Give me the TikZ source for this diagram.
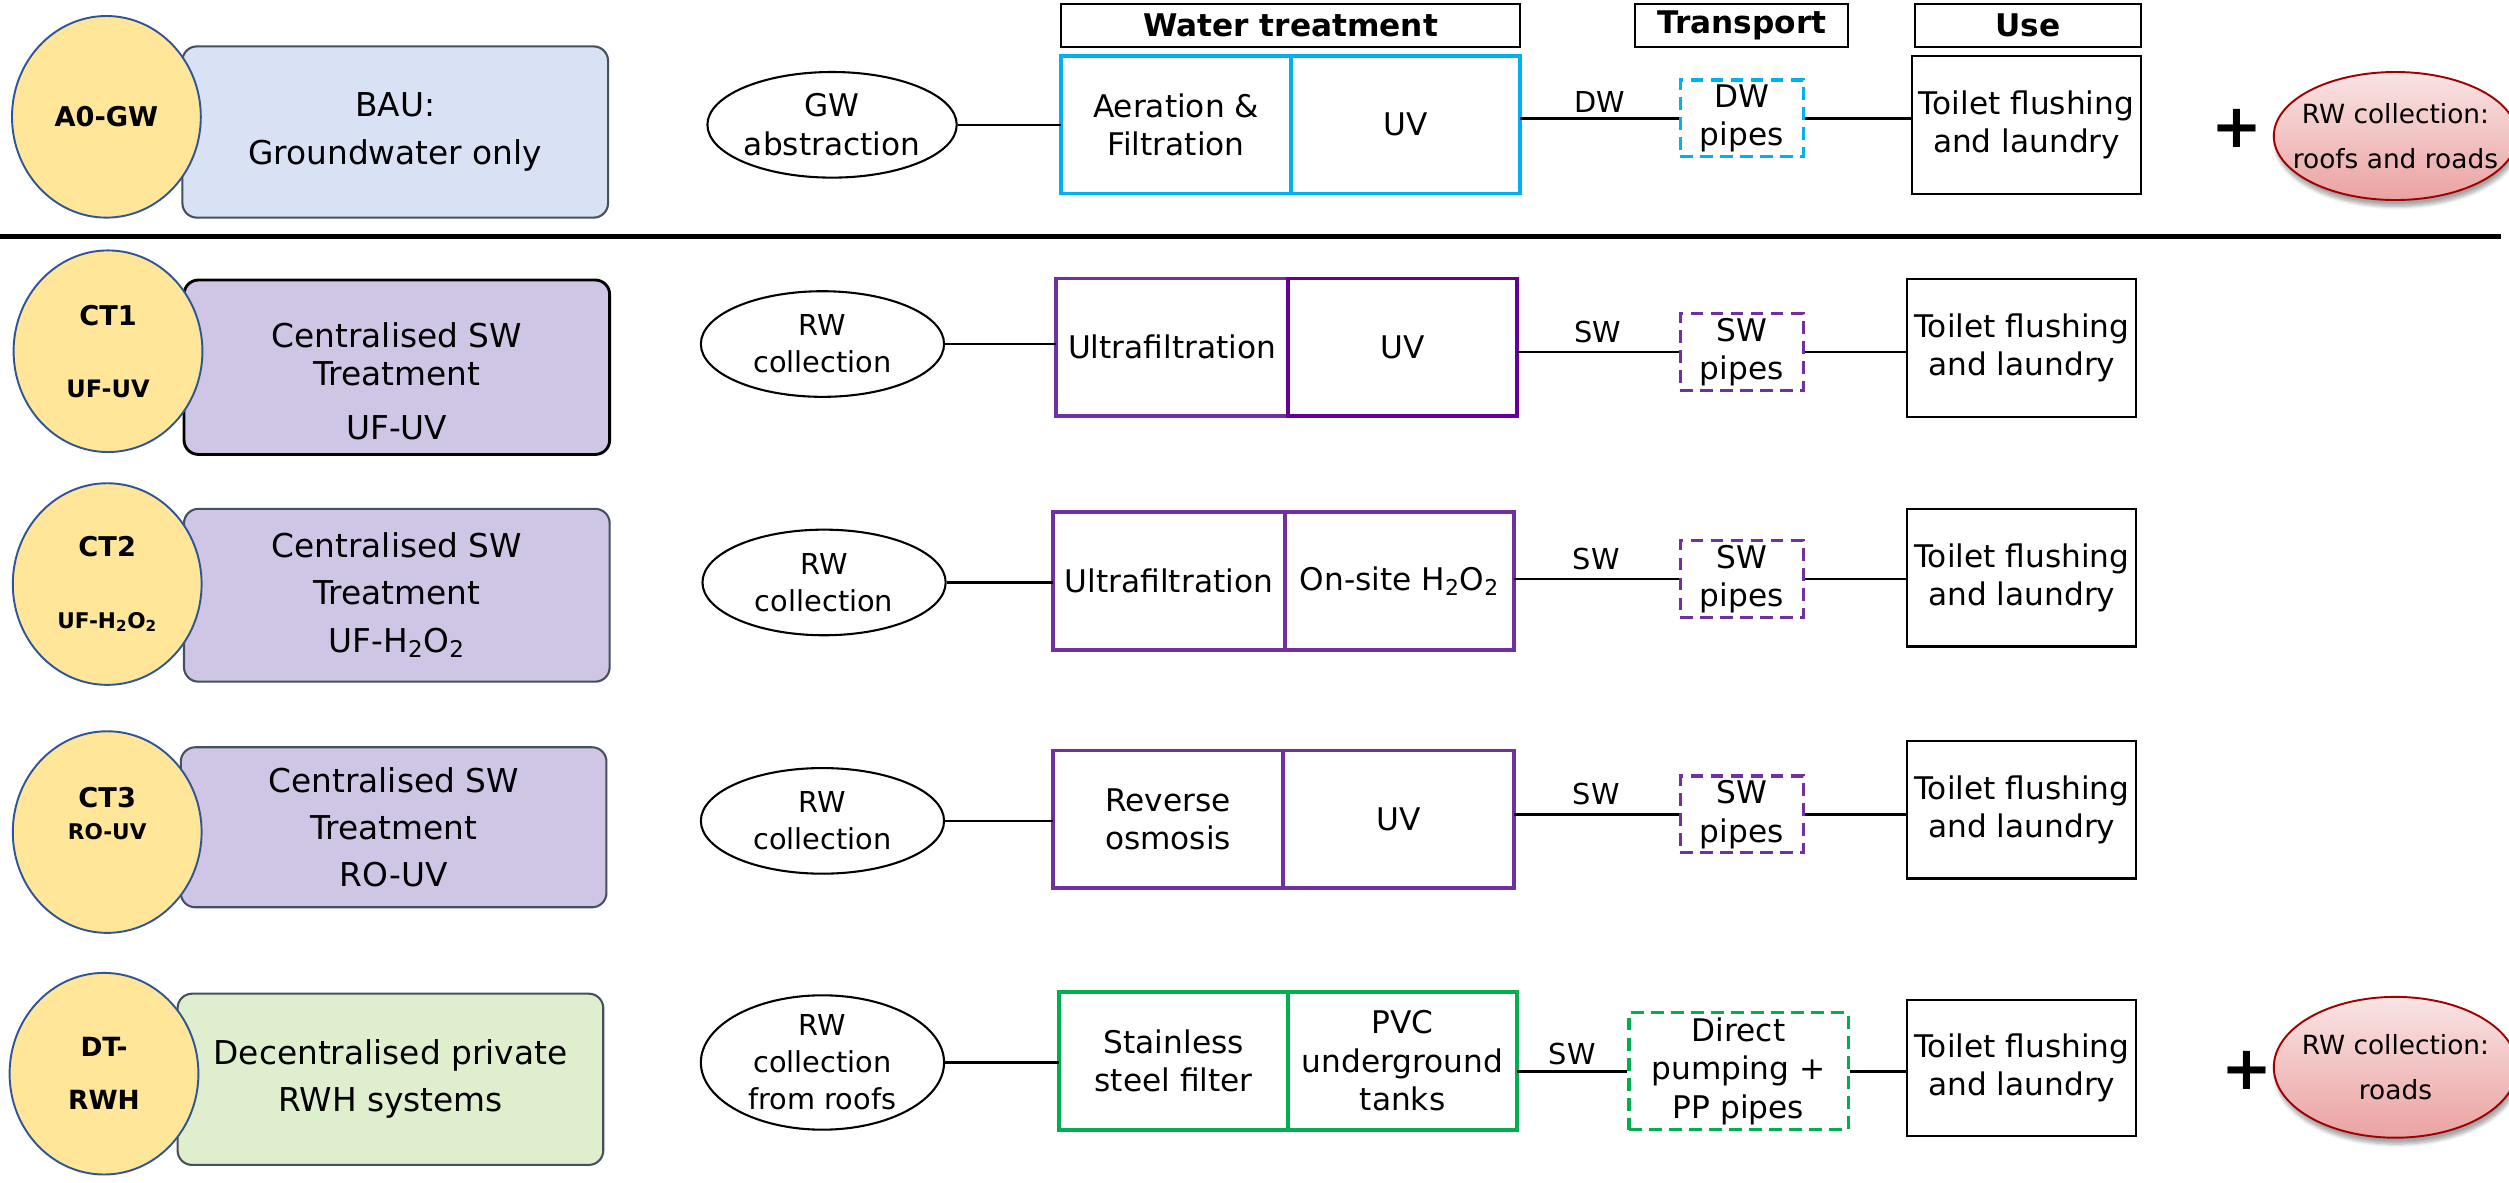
\documentclass[tikz,border=0pt]{standalone}
\usepackage{fontspec}
\setmainfont{DejaVu Sans}
\usetikzlibrary{shapes.geometric,shadows.blur}

\definecolor{tagfill}{HTML}{FFE699}
\definecolor{tagline}{HTML}{2F5597}
\definecolor{baufill}{HTML}{D9E1F4}
\definecolor{ctfill}{HTML}{CFC6E5}
\definecolor{dtfill}{HTML}{DFEFCD}
\definecolor{boxline}{HTML}{44505F}
\definecolor{gwblue}{HTML}{00B0F0}
\definecolor{swpurple}{HTML}{7030A0}
\definecolor{swdeep}{HTML}{640096}
\definecolor{rwgreen}{HTML}{00B050}
\definecolor{rwtop}{HTML}{F9E4E4}
\definecolor{rwbottom}{HTML}{EBA2A2}
\definecolor{rwline}{HTML}{A00000}

\newcommand\sizeflow{\fontsize{19.5}{24}\selectfont}
\newcommand\sizeleft{\fontsize{20.5}{29.5}\selectfont}
\newcommand\sizesub{\fontsize{13.5}{16}\selectfont}

\begin{document}
\begin{tikzpicture}[x=1pt,y=-1pt,
  tag/.style={ellipse, draw=tagline, line width=1.2, fill=tagfill,
    minimum width=118, minimum height=126, inner sep=0, align=center,
    font=\bfseries\fontsize{17}{20}\selectfont},
  scen/.style={rounded corners=9, draw=boxline, line width=1.3, fill=#1,
    minimum width=266, align=center, font=\sizeleft},
  src/.style={ellipse, draw, line width=1.3, minimum width=152,
    minimum height=66, inner sep=0, align=center,
    font=\fontsize{18}{23}\selectfont},
  treat/.style={draw=#1, line width=2.3, minimum height=86, inner sep=0,
    outer sep=0, align=center, font=\sizeflow},
  pipebox/.style={draw=#1, line width=2, dash pattern=on 8pt off 4.5pt,
    minimum width=77, minimum height=48, inner sep=0, align=center,
    font=\sizeflow},
  usebox/.style={draw, line width=1.3, minimum width=143, minimum height=86,
    inner sep=0, align=center, font=\sizeflow},
  head/.style={draw, line width=1.3, minimum height=27, inner sep=0,
    font=\bfseries\fontsize{19.5}{24}\selectfont},
  link/.style={line width=1.5},
  flowlabel/.style={midway, above=#1, inner sep=0, font=\fontsize{18}{22}\selectfont},
  flowlabel/.default=5pt,
  plus/.style={inner sep=0, font=\bfseries\fontsize{38}{38}\selectfont},
  rw/.style={ellipse, draw=rwline, line width=1.2, top color=rwtop,
    bottom color=rwbottom, minimum width=152, inner xsep=-25pt,
    inner ysep=-12pt, align=center,
    font=\fontsize{16.5}{28}\selectfont,
    blur shadow={shadow xshift=1pt, shadow yshift=-4pt, shadow opacity=35,
      shadow blur steps=6}}
]
\useasboundingbox (0,0) rectangle (1568,739);

% column headings
\node[head, minimum width=287] (hwt) at (806.5,16) {Water treatment};
\node[head, minimum width=133] (htr) at (1088.5,16) {Transport};
\node[head, minimum width=141] (hus) at (1267.5,16) {Use};

% ---------- A0-GW ----------
\node[scen=baufill, minimum height=107] (a0B) at (247,82.5) {BAU:\\Groundwater only};
\node[tag] (a0T) at (66.5,73) {A0-GW};
\node[src, font=\fontsize{19.5}{24}\selectfont] (a0S) at (520,78) {GW\\abstraction};
\node[treat=gwblue, minimum width=144] (a0L) at (735,78) {Aeration \&\\Filtration};
\node[treat=gwblue, minimum width=143, anchor=west] (a0R) at (a0L.east) {UV};
\node[pipebox=gwblue] (a0P) at (1088.5,74) {DW\\pipes};
\node[usebox] (a0U) at (1266.5,78) {Toilet flushing\\and laundry};
\node[plus] (a0plus) at (1398,80) {+};
\node[rw, minimum height=80] (a0RW) at (1497,85) {RW collection:\\roofs and roads};
\draw[link] (a0S.east) -- (a0S.east -| a0L.west);
\draw[link] (a0P.west -| a0R.east) -- node[flowlabel=3pt] {DW} (a0P.west);
\draw[link] (a0P.east) -- (a0P.east -| a0U.west);

% separator between baseline and alternatives
\draw[line width=3] (0,148) -- (1563,148);

% ---------- CT1 ----------
\node[scen=ctfill, draw=black, line width=1.8, minimum height=109] (c1B) at (248,229.5)
  {\rule{0pt}{33pt}Centralised SW\\[-5.5pt]Treatment\\[4.5pt]UF-UV};
\node[tag] (c1T) at (67.5,219.5) {CT1\\[25pt]\fontsize{15}{16}\selectfont UF-UV};
\node[src] (c1S) at (514,215) {RW\\collection};
\node[treat=swpurple, minimum width=145] (c1L) at (732.5,217) {Ultrafiltration};
\node[treat=swdeep, minimum width=143, anchor=west] (c1R) at (c1L.east) {UV};
\node[pipebox=swpurple] (c1P) at (1088.5,220) {SW\\pipes};
\node[usebox] (c1U) at (1263.5,217.5) {Toilet flushing\\and laundry};
\draw[link] (c1S.east) -- (c1S.east -| c1L.west);
\draw[link] (c1P.west -| c1R.east) -- node[flowlabel] {SW} (c1P.west);
\draw[link] (c1P.east) -- (c1P.east -| c1U.west);

% ---------- CT2 ----------
\node[scen=ctfill, minimum height=108] (c2B) at (248,372)
  {Centralised SW\\Treatment\\UF-H\textsubscript{2}O\textsubscript{2}};
\node[tag] (c2T) at (67,365) {CT2\\[25pt]\sizesub UF-H\textsubscript{2}O\textsubscript{2}};
\node[src] (c2S) at (515,364) {RW\\collection};
\node[treat=swpurple, minimum width=145] (c2L) at (730.5,363) {Ultrafiltration};
\node[treat=swpurple, minimum width=143, anchor=west] (c2R) at (c2L.east) {On-site H\textsubscript{2}O\textsubscript{2}};
\node[pipebox=swpurple] (c2P) at (1088.5,362) {SW\\pipes};
\node[usebox] (c2U) at (1263.5,361) {Toilet flushing\\and laundry};
\draw[link] (c2S.east) -- (c2S.east -| c2L.west);
\draw[link] (c2P.west -| c2R.east) -- node[flowlabel] {SW} (c2P.west);
\draw[link] (c2P.east) -- (c2P.east -| c2U.west);

% ---------- CT3 ----------
\node[scen=ctfill, minimum height=100] (c3B) at (246,517)
  {Centralised SW\\Treatment\\RO-UV};
\node[tag] (c3T) at (67,520) {CT3\\[0pt]\sizesub RO-UV\rule[-23pt]{0pt}{23pt}};
\node[src] (c3S) at (514,513) {RW\\collection};
\node[treat=swpurple, minimum width=144] (c3L) at (730,512) {Reverse\\osmosis};
\node[treat=swpurple, minimum width=144, anchor=west] (c3R) at (c3L.east) {UV};
\node[pipebox=swpurple] (c3P) at (1088.5,509) {SW\\pipes};
\node[usebox] (c3U) at (1263.5,506) {Toilet flushing\\and laundry};
\draw[link] (c3S.east) -- (c3S.east -| c3L.west);
\draw[link] (c3P.west -| c3R.east) -- node[flowlabel] {SW} (c3P.west);
\draw[link] (c3P.east) -- (c3P.east -| c3U.west);

% ---------- DT-RWH ----------
\node[scen=dtfill, minimum height=107] (dtB) at (244,674.5)
  {Decentralised private\\RWH systems};
\node[tag, font=\bfseries\fontsize{16.5}{33}\selectfont] (dtT) at (65,671) {DT-\\RWH};
\node[src, minimum height=76] (dtS) at (514,664) {RW\\collection\\from roofs};
\node[treat=rwgreen, minimum width=143] (dtL) at (733.5,663) {Stainless\\steel filter};
\node[treat=rwgreen, minimum width=143, anchor=west] (dtR) at (dtL.east) {PVC\\underground\\tanks};
\node[pipebox=rwgreen, minimum width=137, minimum height=73] (dtP) at (1086.5,669.5)
  {Direct\\pumping +\\PP pipes};
\node[usebox, minimum height=85] (dtU) at (1263.5,667.5) {Toilet flushing\\and laundry};
\node[plus] (dtplus) at (1404,669) {+};
\node[rw, minimum height=88] (dtRW) at (1497,667) {RW collection:\\roads};
\draw[link] (dtS.east) -- (dtS.east -| dtL.west);
\draw[link] (dtP.west -| dtR.east) -- node[flowlabel=3pt] {SW} (dtP.west);
\draw[link] (dtP.east) -- (dtP.east -| dtU.west);
\end{tikzpicture}
\end{document}
